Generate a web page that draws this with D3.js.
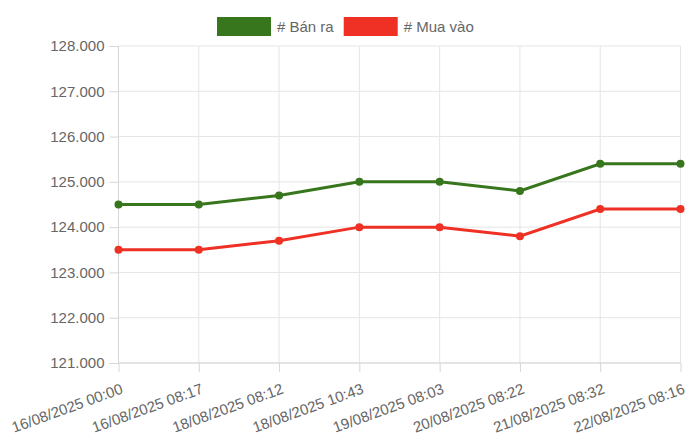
<!DOCTYPE html>
<html>
<head>
<meta charset="utf-8">
<script src="https://cdn.jsdelivr.net/npm/d3@7/dist/d3.min.js"></script>
<style>
  body { margin: 0; background: #fff; }
  svg { display: block; font-family: "Liberation Sans", Arial, sans-serif; }
  .grid line { stroke: #e5e5e5; stroke-width: 1; }
  .axis text { fill: #666; font-size: 15px; }
  .axis line, .axis path { stroke: #d6d6d6; }
</style>
</head>
<body>
<div id="chart"></div>
<script>
var labels = ['16/08/2025 00:00', '16/08/2025 08:17', '18/08/2025 08:12', '18/08/2025 10:43',
  '19/08/2025 08:03', '20/08/2025 08:22', '21/08/2025 08:32', '22/08/2025 08:16'];
var banRa = [124500, 124500, 124700, 125000, 125000, 124800, 125400, 125400];
var muaVao = [123500, 123500, 123700, 124000, 124000, 123800, 124400, 124400];
var yTicks = [121000, 122000, 123000, 124000, 125000, 126000, 127000, 128000];
var seriesNames = ['# Bán ra', '# Mua vào'];
var seriesColors = ['#38761d', '#ee3124'];

var W = 700, H = 442;
var margin = { top: 46, right: 19.5, bottom: 79, left: 118.5 };
var width = W - margin.left - margin.right;
var height = H - margin.top - margin.bottom;

var vn = d3.formatLocale({ decimal: ',', thousands: '.', grouping: [3], currency: ['', ''] });
var fmt = vn.format(',d');

var x = d3.scalePoint().domain(labels).range([0, width]);
var y = d3.scaleLinear().domain([121000, 128000]).range([height, 0]);

var svg = d3.select('#chart').append('svg').attr('width', W).attr('height', H);
var g = svg.append('g').attr('transform', 'translate(' + margin.left + ',' + margin.top + ')');

// grid
var grid = g.append('g').attr('class', 'grid');
grid.selectAll('line.h').data(yTicks).enter().append('line')
  .attr('x1', 0).attr('x2', width)
  .attr('y1', function(d) { return y(d); }).attr('y2', function(d) { return y(d); });
grid.selectAll('line.v').data(labels).enter().append('line')
  .attr('x1', function(d) { return x(d); }).attr('x2', function(d) { return x(d); })
  .attr('y1', 0).attr('y2', height);

// axes
var yAxis = d3.axisLeft(y).tickValues(yTicks).tickFormat(fmt).tickSize(9).tickPadding(5);
var yg = g.append('g').attr('class', 'axis').call(yAxis);
yg.select('.domain').remove();
g.append('line').attr('x1', 0).attr('x2', 0).attr('y1', 0).attr('y2', height).attr('stroke', '#d6d6d6');

var xAxis = d3.axisBottom(x).tickSize(9).tickPadding(4);
var xg = g.append('g').attr('class', 'axis').attr('transform', 'translate(0,' + height + ')').call(xAxis);
xg.select('.domain').remove();
g.append('line').attr('x1', 0).attr('x2', width).attr('y1', height).attr('y2', height).attr('stroke', '#d6d6d6');
xg.selectAll('text')
  .attr('text-anchor', 'end')
  .attr('dy', '0.35em')
  .attr('y', 0)
  .attr('transform', 'translate(3,25) rotate(-20)');

// lines
var line = d3.line()
  .x(function(d, i) { return x(labels[i]); })
  .y(function(d) { return y(d); });

[banRa, muaVao].forEach(function(s, k) {
  g.append('path').datum(s)
    .attr('fill', 'none')
    .attr('stroke', seriesColors[k])
    .attr('stroke-width', 3)
    .attr('d', line);
  g.selectAll('circle.s' + k).data(s).enter().append('circle')
    .attr('class', 's' + k)
    .attr('cx', function(d, i) { return x(labels[i]); })
    .attr('cy', function(d) { return y(d); })
    .attr('r', 4)
    .attr('fill', seriesColors[k]);
});

// legend
var legend = svg.append('g').attr('transform', 'translate(217,17)');
var lx = 0;
seriesNames.forEach(function(name, k) {
  var item = legend.append('g').attr('transform', 'translate(' + lx + ',0)');
  item.append('rect').attr('width', 54).attr('height', 19).attr('fill', seriesColors[k]);
  var t = item.append('text').attr('x', 60).attr('y', 9.5).attr('dy', '0.35em')
    .attr('fill', '#666').style('font-size', '15px').text(name);
  lx += 60 + t.node().getComputedTextLength() + 10;
});
</script>
</body>
</html>
